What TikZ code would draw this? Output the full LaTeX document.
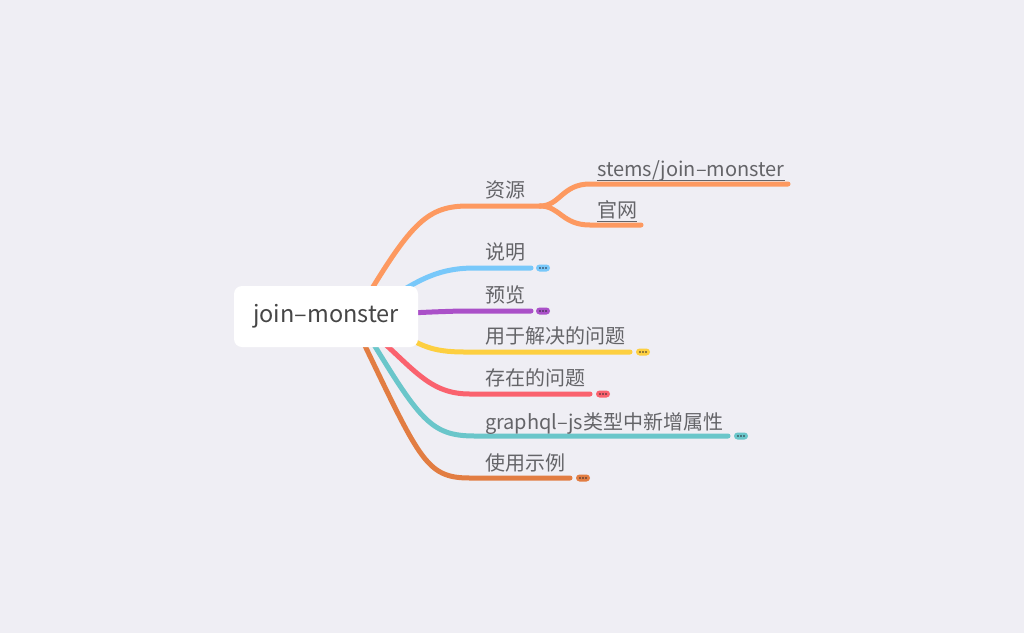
\documentclass[tikz,border=0pt]{standalone}
\usepackage{fontspec}
\setmainfont{Noto Sans CJK SC}
\definecolor{bg}{RGB}{239,238,244}
\definecolor{cOrange}{RGB}{253,153,96}
\definecolor{cBlue}{RGB}{120,200,250}
\definecolor{cPurple}{RGB}{170,80,200}
\definecolor{cYellow}{RGB}{253,207,64}
\definecolor{cRed}{RGB}{250,98,110}
\definecolor{cTeal}{RGB}{106,198,202}
\definecolor{cBrown}{RGB}{226,125,66}
\definecolor{txt}{RGB}{100,100,104}
\definecolor{roottxt}{RGB}{70,70,70}
\definecolor{dotc}{RGB}{40,40,50}
\tikzset{
  branch/.style={line width=5pt, line cap=round},
  lbl/.style={font=\fontsize{20}{20}\selectfont, text=txt, anchor=base west, inner sep=0pt},
  pillbox/.style={minimum width=14pt, minimum height=7pt, inner sep=0pt, rounded corners=3.5pt},
  rootbox/.style={fill=white, rounded corners=8pt, minimum width=184pt, minimum height=61pt, inner sep=0pt, text=roottxt, font=\fontsize{23.5}{23.5}\selectfont}
}
\newcommand\pilldots[1]{%
  \fill[dotc] ([xshift=-3pt]#1.center) circle (0.9pt) (#1.center) circle (0.9pt) ([xshift=3pt]#1.center) circle (0.9pt);}
\begin{document}
\begin{tikzpicture}[x=1pt,y=-1pt]
\fill[bg] (0,0) rectangle (1024,633);
\useasboundingbox (0,0) rectangle (1024,633);

% coordinates
\coordinate (s1) at (365,300);
\coordinate (e1) at (540,206);
\coordinate (s2) at (380,305);
\coordinate (e2) at (531,268);
\coordinate (s3) at (390,314);
\coordinate (e3) at (531,311);
\coordinate (s4) at (395,330);
\coordinate (e4) at (630,352);
\coordinate (s5) at (375,335);
\coordinate (e5) at (590,394);
\coordinate (s6) at (365,330);
\coordinate (e6) at (728,436);
\coordinate (s7) at (355,325);
\coordinate (e7) at (570,478);
\coordinate (e11) at (788,184);
\coordinate (e12) at (641,225);

% branches
\draw[branch, cOrange] (s1) .. controls (412,222) and (428,206) .. (468,206) -- (e1);
\draw[branch, cOrange] (e1) .. controls (560,206) and (562,184) .. (590,184) -- (e11);
\draw[branch, cOrange] (e1) .. controls (560,206) and (562,225) .. (590,225) -- (e12);
\draw[branch, cBlue] (s2) .. controls (420,278) and (440,268) .. (475,268) -- (e2);
\draw[branch, cPurple] (s3) .. controls (430,312) .. (460,311) -- (e3);
\draw[branch, cYellow] (s4) .. controls (420,345) and (430,352) .. (465,352) -- (e4);
\draw[branch, cRed] (s5) .. controls (415,370) and (430,394) .. (470,394) -- (e5);
\draw[branch, cTeal] (s6) .. controls (420,420) and (430,436) .. (475,436) -- (e6);
\draw[branch, cBrown] (s7) .. controls (420,460) and (425,478) .. (470,478) -- (e7);

% root
\node[rootbox] (root) at (326,316.5) {join\textendash monster};

% labels
\node[lbl] (l1) at (485,197) {资源};
\node[lbl] (l2) at (485,259) {说明};
\node[lbl] (l3) at (485,302) {预览};
\node[lbl] (l4) at (485,343) {用于解决的问题};
\node[lbl] (l5) at (485,385) {存在的问题};
\node[lbl] (l6) at (485,429) {graphql\textendash js类型中新增属性};
\node[lbl] (l7) at (485,470) {使用示例};
\node[lbl] (l11) at (597,176) {stems/join\textendash monster};
\node[lbl] (l12) at (597,217) {官网};
\draw[txt, line width=1pt] ([yshift=-4.5pt]l11.base west) -- ([yshift=-4.5pt]l11.base east);
\draw[txt, line width=1pt] ([yshift=-4.5pt]l12.base west) -- ([yshift=-4.5pt]l12.base east);

% pills
\node[pillbox, fill=cBlue] (p2) at (543,268) {}; \pilldots{p2}
\node[pillbox, fill=cPurple] (p3) at (543,311) {}; \pilldots{p3}
\node[pillbox, fill=cYellow] (p4) at (643,352) {}; \pilldots{p4}
\node[pillbox, fill=cRed] (p5) at (603,394) {}; \pilldots{p5}
\node[pillbox, fill=cTeal] (p6) at (741,436) {}; \pilldots{p6}
\node[pillbox, fill=cBrown] (p7) at (583,478) {}; \pilldots{p7}
\end{tikzpicture}
\end{document}
